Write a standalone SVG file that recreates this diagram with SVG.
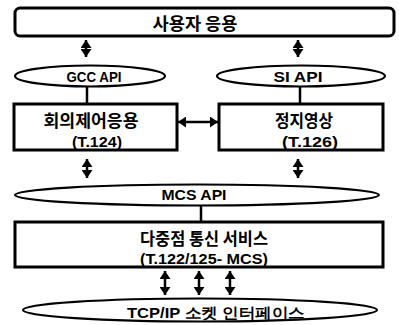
<svg xmlns="http://www.w3.org/2000/svg" width="399" height="325" viewBox="0 0 399 325">
<style>
.box{fill:#fff;stroke:#000;stroke-width:3}
.ell{fill:#fff;stroke:#000;stroke-width:2.2}
.ln{stroke:#000;stroke-width:2.5;fill:none}
.arr{stroke:#000;stroke-width:2.5;fill:none;marker-start:url(#ah);marker-end:url(#ah)}
.t{font-family:"Liberation Sans",Arial,sans-serif;font-weight:bold;font-size:15px;text-anchor:middle;fill:#000}
.k{font-family:"Noto Sans CJK KR","Noto Sans",sans-serif;font-weight:bold;font-size:17px;text-anchor:middle;fill:#000}
</style>
<defs>
<marker id="ah" viewBox="0 0 8 11" refX="8" refY="5.5" markerWidth="8" markerHeight="11" orient="auto-start-reverse" markerUnits="userSpaceOnUse">
<path d="M0,0 L8,5.5 L0,11 z" fill="#000"/>
</marker>
</defs>
<rect width="399" height="325" fill="#fff"/>
<g id="connectors">
<line class="arr" x1="86" y1="40" x2="86" y2="57"/>
<line class="arr" x1="298" y1="40" x2="298" y2="57"/>
<line class="ln" x1="87" y1="86" x2="87" y2="104"/>
<line class="ln" x1="300" y1="86" x2="300" y2="104"/>
<line class="arr" x1="178" y1="122" x2="218" y2="122"/>
<line class="arr" x1="87" y1="159" x2="87" y2="178"/>
<line class="arr" x1="298" y1="159" x2="298" y2="178"/>
<line class="ln" x1="201" y1="205" x2="201" y2="222"/>
<line class="arr" x1="165" y1="271" x2="165" y2="295"/>
<line class="arr" x1="199" y1="271" x2="199" y2="295"/>
<line class="arr" x1="230" y1="271" x2="230" y2="295"/>
</g>
<g id="user-app">
<rect class="box" x="15" y="8" width="379" height="28" rx="5"/>
<text class="k" x="195" y="30" textLength="85" lengthAdjust="spacingAndGlyphs">사용자 응용</text>
</g>
<g id="gcc-api">
<ellipse class="ell" cx="90" cy="76" rx="75" ry="10.5"/>
<text class="t" x="94" y="82" textLength="55" lengthAdjust="spacingAndGlyphs">GCC API</text>
</g>
<g id="si-api">
<ellipse class="ell" cx="301" cy="76" rx="84" ry="10.5"/>
<text class="t" x="298" y="82" textLength="49" lengthAdjust="spacingAndGlyphs">SI API</text>
</g>
<g id="conf-ctrl">
<rect class="box" x="14" y="104" width="163" height="46"/>
<text class="k" x="91" y="127" textLength="95" lengthAdjust="spacingAndGlyphs">회의제어응용</text>
<text class="t" x="97" y="147" textLength="50" lengthAdjust="spacingAndGlyphs">(T.124)</text>
</g>
<g id="still-image">
<rect class="box" x="219" y="104" width="164" height="46"/>
<text class="k" x="304" y="127" textLength="58" lengthAdjust="spacingAndGlyphs">정지영상</text>
<text class="t" x="310" y="147" textLength="56" lengthAdjust="spacingAndGlyphs">(T.126)</text>
</g>
<g id="mcs-api">
<ellipse class="ell" cx="197" cy="195" rx="182" ry="10.5"/>
<text class="t" x="194" y="200" textLength="65" lengthAdjust="spacingAndGlyphs">MCS API</text>
</g>
<g id="mcs">
<rect class="box" x="15" y="222" width="368" height="45"/>
<text class="k" x="204" y="245" textLength="128" lengthAdjust="spacingAndGlyphs">다중점 통신 서비스</text>
<text class="t" x="204" y="264" textLength="128" lengthAdjust="spacingAndGlyphs">(T.122/125- MCS)</text>
</g>
<g id="tcpip">
<ellipse class="ell" cx="200" cy="310" rx="177" ry="11.5"/>
<text class="t" x="216" y="318" textLength="178" lengthAdjust="spacingAndGlyphs">TCP/IP 소켓 인터페이스</text>
</g>
</svg>
